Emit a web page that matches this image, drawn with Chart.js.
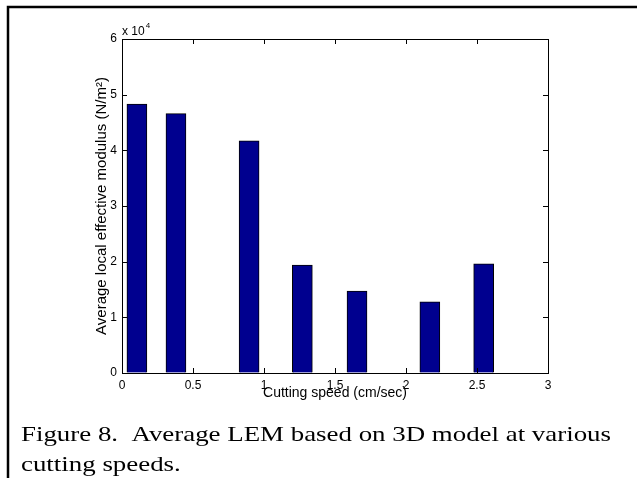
<!DOCTYPE html>
<html>
<head>
<meta charset="utf-8">
<script src="https://cdn.jsdelivr.net/npm/chart.js@4"></script>
<style>
  html, body { margin: 0; padding: 0; background: #fff; }
  canvas { display: block; }
</style>
</head>
<body>
<canvas id="lemChart" width="637" height="478"></canvas>
<script>
// cutting speed (cm/sec) and average LEM (N/m^2)
const speeds = [0.105, 0.38, 0.895, 1.27, 1.655, 2.168, 2.547];
const modulus = [48300, 46600, 41700, 19400, 14700, 12800, 19600];

// axis settings
const xRange = [0, 3];
const xStep = 0.5;
const yRange = [0, 60000];
const yStep = 10000;
const yExponent = 4;

// texts
const xTitle = "Cutting speed (cm/sec)";
const yTitle = "Average local effective modulus (N/m\u00B2)";
const captionLines = [
  "Figure 8.  Average LEM based on 3D model at various",
  "cutting speeds.",
];

const axisFont = "Arial, 'Liberation Sans', Helvetica, sans-serif";

// plugin:: frame, caption, box, inner ticks, exponent
const figureDecor = {
  id: "figureDecor",
  beforeDraw(chart) {
    const c = chart.ctx;
    c.save();
    c.fillStyle = "#fff";
    c.fillRect(0, 0, chart.width, chart.height);
    c.restore();
  },
  afterDatasetsDraw(chart) {
    const c = chart.ctx;
    const { left, right, top, bottom } = chart.chartArea;
    const xs = chart.scales.x;
    const ys = chart.scales.y;
    const tick = 5;

    c.save();
    c.strokeStyle = "#000";
    c.lineWidth = 1;

    // top and right edges of the box
    c.beginPath();
    c.moveTo(left, top + 0.5);
    c.lineTo(right + 0.5, top + 0.5);
    c.lineTo(right + 0.5, bottom);
    c.stroke();

    // inward ticks on all four sides
    c.beginPath();
    xs.ticks.forEach((t) => {
      const px = Math.round(xs.getPixelForValue(t.value)) + 0.5;
      c.moveTo(px, bottom);
      c.lineTo(px, bottom - tick);
      c.moveTo(px, top);
      c.lineTo(px, top + tick);
    });
    ys.ticks.forEach((t) => {
      const py = Math.round(ys.getPixelForValue(t.value)) + 0.5;
      c.moveTo(left, py);
      c.lineTo(left + tick, py);
      c.moveTo(right, py);
      c.lineTo(right - tick, py);
    });
    c.stroke();

    // exponent label above the y axis
    c.fillStyle = "#000";
    c.textBaseline = "alphabetic";
    c.textAlign = "left";
    c.font = "12px " + axisFont;
    c.fillText("x 10", left, top - 4);
    const w = c.measureText("x 10").width;
    c.font = "8px " + axisFont;
    c.fillText(String(yExponent), left + w + 1, top - 11);

    // frame of the figure
    c.lineWidth = 2.5;
    c.beginPath();
    c.moveTo(8, chart.height);
    c.lineTo(8, 7);
    c.lineTo(chart.width, 7);
    c.stroke();

    // caption
    c.font = "21px 'Liberation Serif', 'Times New Roman', serif";
    const lineWidth = c.measureText(captionLines[0]).width;
    const stretch = 590 / lineWidth;
    const baselines = [441, 471];
    captionLines.forEach((line, i) => {
      c.save();
      c.translate(21, baselines[i]);
      c.scale(stretch, 1);
      c.fillText(line, 0, 0);
      c.restore();
    });
    c.restore();
  },
};

new Chart(document.getElementById("lemChart"), {
  type: "bar",
  data: {
    datasets: [
      {
        data: speeds.map((s, i) => ({ x: s, y: modulus[i] })),
        backgroundColor: "#00008F",
        borderColor: "#000",
        borderWidth: 1,
        barThickness: 20,
      },
    ],
  },
  options: {
    responsive: false,
    animation: false,
    events: [],
    layout: {
      padding: { top: 39, right: 89, left: 0, bottom: 0 },
    },
    plugins: {
      legend: { display: false },
      tooltip: { enabled: false },
    },
    scales: {
      x: {
        type: "linear",
        min: xRange[0],
        max: xRange[1],
        offset: false,
        afterFit: (s) => {
          s.height = 105;
        },
        grid: {
          display: true,
          drawOnChartArea: false,
          drawTicks: false,
        },
        border: { color: "#000", width: 1 },
        ticks: {
          stepSize: xStep,
          color: "#000",
          padding: 5,
          maxRotation: 0,
          font: { family: axisFont, size: 12 },
          callback: (v) => String(v),
        },
        title: {
          display: true,
          text: xTitle,
          color: "#000",
          font: { family: axisFont, size: 14 },
          padding: { top: 0, bottom: 76 },
        },
      },
      y: {
        min: yRange[0],
        max: yRange[1],
        afterFit: (s) => {
          s.width = 122;
        },
        grid: {
          display: true,
          drawOnChartArea: false,
          drawTicks: false,
        },
        border: { color: "#000", width: 1 },
        ticks: {
          stepSize: yStep,
          color: "#000",
          padding: 5,
          font: { family: axisFont, size: 12 },
          callback: (v) => String(v / Math.pow(10, yExponent)),
        },
        title: {
          display: true,
          text: yTitle,
          color: "#000",
          font: { family: axisFont, size: 15 },
          padding: { top: 93, bottom: 0 },
        },
      },
    },
  },
  plugins: [figureDecor],
});
</script>
</body>
</html>
